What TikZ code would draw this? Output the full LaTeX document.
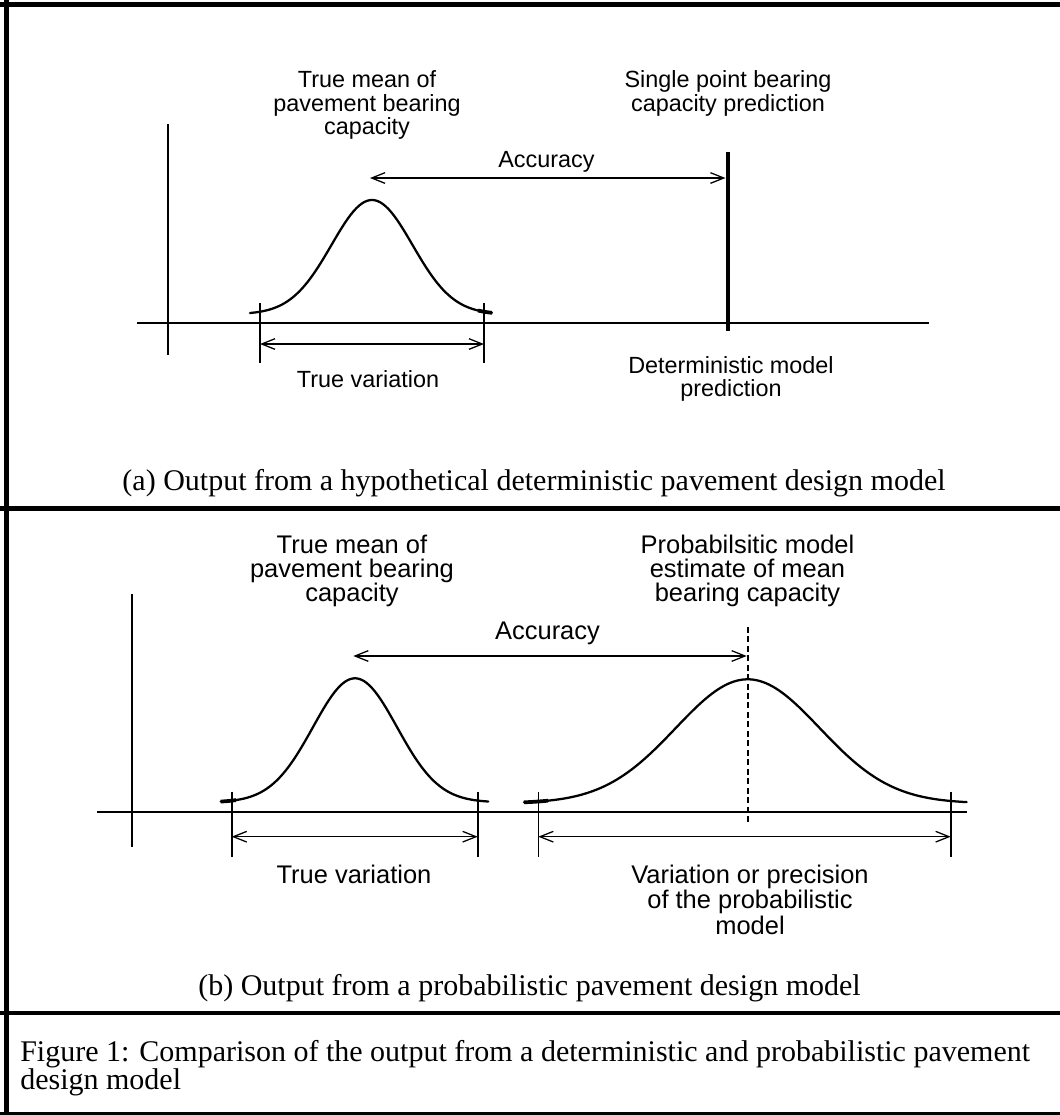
\documentclass[tikz,border=0pt]{standalone}
\usepackage{fontspec}
\setmainfont{Liberation Serif}
\newfontfamily\arialfont{Liberation Sans}
\usetikzlibrary{arrows.meta}
\begin{document}
\begin{tikzpicture}[x=0.75pt,y=-0.75pt,
  frame/.style={line width=3.75pt},
  axis/.style={line width=1.25pt},
  tick/.style={line width=1.2pt},
  dim/.style={line width=0.95pt,{Straight Barb[length=10pt,width=8pt]}-{Straight Barb[length=10pt,width=8pt]}},
  curve/.style={line width=1.7pt,line cap=round,line join=round},
  curveend/.style={line width=2.8pt,line cap=butt},
  labA/.style={font=\arialfont\fontsize{17.55}{17.5}\selectfont,align=center,inner sep=0pt,anchor=base},
  labB/.style={font=\arialfont\fontsize{19.1}{18.2}\selectfont,align=center,inner sep=0pt,anchor=base},
  capt/.style={font=\fontsize{22.5}{20.7}\selectfont,inner sep=0pt},
]
\useasboundingbox (0,0) rectangle (1060,1115);
\fill[white] (0,0) rectangle (1060,1115);

% ---------- frame ----------
\coordinate (topL) at (0,4.2);   \coordinate (topR) at (1060,4.2);
\coordinate (leftT) at (6.35,0); \coordinate (leftB) at (6.35,1115);
\coordinate (sepAL) at (0,508.5); \coordinate (sepAR) at (1060,508.5);
\coordinate (sepBL) at (0,1013);  \coordinate (sepBR) at (1060,1013);
\coordinate (botL) at (0,1113.8); \coordinate (botR) at (1060,1113.8);
\draw[frame] (topL) -- (topR);
\draw[line width=3.5pt] (leftT) -- (leftB);
\draw[frame] (sepAL) -- (sepAR);
\draw[line width=3pt] (sepBL) -- (sepBR);
\draw[line width=2pt] (botL) -- (botR);

% ---------- panel (a) ----------
\coordinate (aYT) at (168,124); \coordinate (aYB) at (168,355);
\coordinate (aXL) at (137,323); \coordinate (aXR) at (929,323);
\draw[axis] (aYT) -- (aYB);
\draw[axis] (aXL) -- (aXR);

\draw[curve] plot[domain=250:492,samples=90] (\x,{200+114.2*(1-exp(-0.5*((\x-372)/40.5)^2))});
\draw[curveend] plot[domain=478:492,samples=8] (\x,{200+114.2*(1-exp(-0.5*((\x-372)/40.5)^2))});

\coordinate (aT1t) at (260,303); \coordinate (aT1b) at (260,363);
\coordinate (aT2t) at (484,303); \coordinate (aT2b) at (484,363);
\draw[tick] (aT1t) -- (aT1b);
\draw[tick] (aT2t) -- (aT2b);
\coordinate (aV1) at (260,344); \coordinate (aV2) at (484,344);
\draw[dim] (aV1) -- (aV2);

\coordinate (aPT) at (728,152); \coordinate (aPB) at (728,331);
\draw[line width=3.5pt] (aPT) -- (aPB);
\coordinate (aA1) at (370,178); \coordinate (aA2) at (725.5,178);
\draw[dim] (aA1) -- (aA2);

\node[labA] (aMean) at (367,134.4) {True mean of\\pavement bearing\\capacity};
\node[labA] (aSingle) at (728,111.1) {Single point bearing\\capacity prediction};
\node[labA] (aAcc) at (546.5,167) {Accuracy};
\node[labA] (aVar) at (368,387.4) {True variation};
\node[labA] (aDet) at (731,396.9) {Deterministic model\\prediction};
\node[capt,anchor=base] (aCap) at (534,490) {(a) Output from a hypothetical deterministic pavement design model};

% ---------- panel (b) ----------
\coordinate (bYT) at (132,594); \coordinate (bYB) at (132,847);
\coordinate (bXL) at (97,812.3); \coordinate (bXR) at (966.7,812.3);
\draw[axis] (bYT) -- (bYB);
\draw[axis] (bXL) -- (bXR);

\draw[curve] plot[domain=220.7:488.3,samples=100] (\x,{678.3+124*(1-exp(-0.5*((\x-355)/42)^2))});
\draw[curveend] plot[domain=220.7:236,samples=8] (\x,{678.3+124*(1-exp(-0.5*((\x-355)/42)^2))});
\draw[curve] plot[domain=524:966.7,samples=140] (\x,{679.3+124*(1-exp(-0.5*((\x-747.7)/72)^2))});
\draw[curveend] plot[domain=524:548,samples=8] (\x,{679.3+124*(1-exp(-0.5*((\x-747.7)/72)^2))});

\coordinate (bT1t) at (231.7,791.7); \coordinate (bT1b) at (231.7,856.7);
\coordinate (bT2t) at (477.7,791.7); \coordinate (bT2b) at (477.7,856.7);
\coordinate (bT3t) at (538.3,791.7); \coordinate (bT3b) at (538.3,856.7);
\coordinate (bT4t) at (950.7,791.7); \coordinate (bT4b) at (950.7,856.7);
\draw[tick] (bT1t) -- (bT1b);
\draw[tick] (bT2t) -- (bT2b);
\draw[tick] (bT3t) -- (bT3b);
\draw[tick] (bT4t) -- (bT4b);
\coordinate (bV1) at (231.7,836.7); \coordinate (bV2) at (477.7,836.7);
\coordinate (bV3) at (538.3,836.7); \coordinate (bV4) at (950.7,836.7);
\draw[dim] (bV1) -- (bV2);
\draw[dim] (bV3) -- (bV4);

\coordinate (bDT) at (747.7,626.7); \coordinate (bDB) at (747.7,821.7);
\draw[line width=1.8pt,dash pattern=on 4.5pt off 2.6pt] (bDT) -- (bDB);
\coordinate (bA1) at (353.3,656); \coordinate (bA2) at (746.7,656);
\draw[dim] (bA1) -- (bA2);

\node[labB] (bMean) at (352,601.7) {True mean of\\pavement bearing\\capacity};
\node[labB] (bProb) at (747.5,601.7) {Probabilsitic model\\estimate of mean\\bearing capacity};
\node[labB] (bAcc) at (547.5,639.3) {Accuracy};
\node[labB] (bVar) at (354,883.3) {True variation};
\node[labB,font=\arialfont\fontsize{19.1}{19.3}\selectfont] (bPrec) at (750,934.6) {Variation or precision\\of the probabilistic\\model};
\node[capt,anchor=base] (bCap) at (529.5,995) {(b) Output from a probabilistic pavement design model};

% ---------- caption ----------
\node[capt,anchor=base west,align=left] (figCap) at (20,1089.3) {Figure 1: Comparison of the output from a deterministic and probabilistic pavement\\design model};
\end{tikzpicture}
\end{document}
